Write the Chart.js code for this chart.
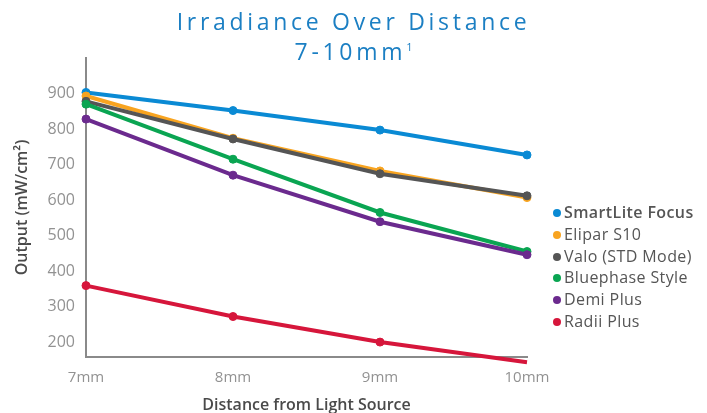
<!DOCTYPE html>
<html>
<head>
<meta charset="utf-8">
<script src="https://cdn.jsdelivr.net/npm/chart.js@4"></script>
<style>
 body{margin:0;background:#fff;}
 #wrap{position:relative;width:707px;height:413px;}
 #title{position:absolute;left:0;top:6px;width:707px;text-align:center;color:#1b7fc3;font-family:"Open Sans",sans-serif;font-size:23px;line-height:30px;letter-spacing:3.7px;font-weight:400;}
 #title sup{font-size:11px;letter-spacing:0;vertical-align:top;position:relative;top:-4px;}
 #legend{position:absolute;left:553px;top:202px;font-family:"Open Sans",sans-serif;font-size:16px;letter-spacing:0.4px;color:#555;}
 #legend div{height:21.8px;line-height:21.8px;white-space:nowrap;}
 #legend span{display:inline-block;width:8px;height:8px;border-radius:50%;margin-right:3px;vertical-align:1px;}
</style>
</head>
<body>
<div id="wrap">
 <canvas id="c" width="707" height="413"></canvas>
 <div id="title">Irradiance Over Distance<br>7-10mm<sup>1</sup></div>
 <div id="legend"></div>
</div>
<script>
const distances=["7mm","8mm","9mm","10mm"];
const names=["SmartLite Focus","Elipar S10","Valo (STD Mode)","Bluephase Style","Demi Plus","Radii Plus"];
const colors=["#0a8ad4","#f8a420","#555555","#0aa552","#6b2a8e","#d6163b"];
const smartlite=[903,852,797,727];
const elipar=[893,774,682,607];
const valo=[878,772,674,612];
const bluephase=[870,715,565,455];
const demi=[828,670,539,446];
const radii=[359,272,200,143];
const tickValues=[200,300,400,500,600,700,800,900];

const series=[smartlite,elipar,valo,bluephase,demi,radii];
// draw order: back to front like the reference
const order=[5,4,3,2,1,0];

let legend=document.getElementById("legend");
names.forEach((n,i)=>{
 let d=document.createElement("div");
 if(i==0)d.style.fontWeight="600";
 d.innerHTML='<span style="background:'+colors[i]+'"></span>'+n;
 legend.appendChild(d);
});

new Chart(document.getElementById("c"),{
 type:"line",
 data:{
  labels:distances,
  datasets:order.map(i=>({
   label:names[i],
   data:series[i],
   borderColor:colors[i],
   backgroundColor:colors[i],
   borderWidth:4,
   pointRadius:4,
   pointBorderWidth:1,
   pointHoverRadius:4,
   clip:false,
   tension:0
  }))
 },
 options:{
  responsive:false,
  animation:false,
  layout:{padding:{left:0,right:180,top:58,bottom:-2}},
  plugins:{legend:{display:false},tooltip:{enabled:false}},
  scales:{
   x:{
    offset:false,
    grid:{display:false,drawTicks:false},
    border:{color:"#8a8a8a",width:2},
    ticks:{color:"#929292",font:{family:"Open Sans",size:15},padding:12,maxRotation:0},
    title:{display:true,text:"Distance from Light Source",color:"#4a4a4a",font:{family:"Open Sans",size:16,weight:"600"},padding:0},
    afterFit:s=>{s.height=58;}
   },
   y:{
    min:158,max:1000,
    grid:{display:false,drawTicks:false},
    border:{color:"#8a8a8a",width:2},
    ticks:{color:"#929292",font:{family:"Open Sans",size:16},padding:11},
    afterBuildTicks:s=>{s.ticks=tickValues.map(v=>({value:v}));},
    title:{display:true,text:"Output (mW/cm²)",color:"#4a4a4a",font:{family:"Open Sans",size:16,weight:"600"},padding:{top:13,bottom:0}},
    afterFit:s=>{s.width=86;}
   }
  }
 }
});
</script>
</body>
</html>
